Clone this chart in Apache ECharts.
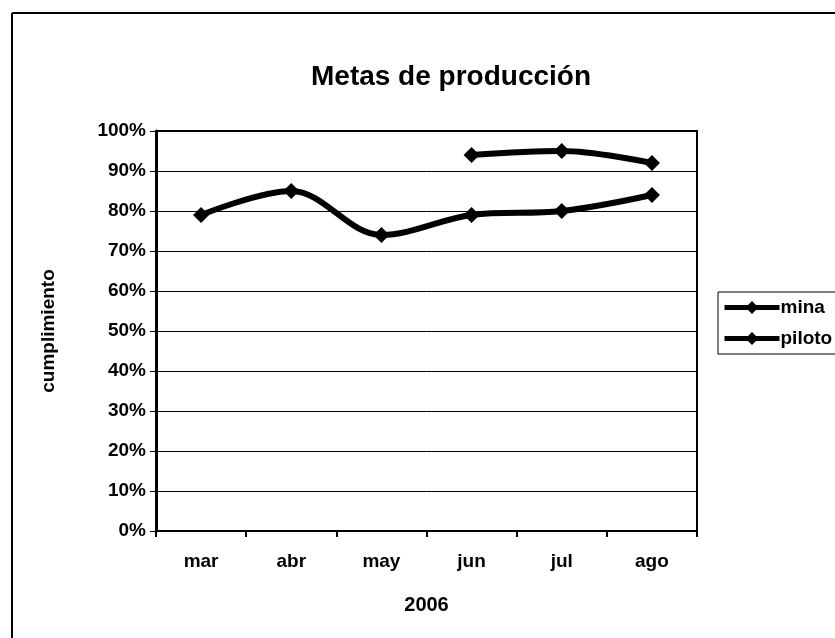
<!DOCTYPE html>
<html>
<head>
<meta charset="utf-8">
<script src="https://cdn.jsdelivr.net/npm/echarts@6/dist/echarts.min.js"></script>
<style>
  html, body { margin: 0; padding: 0; background: #fff; }
  #chart { width: 835px; height: 638px; }
</style>
</head>
<body>
<div id="chart"></div>
<script>
const months = ['mar', 'abr', 'may', 'jun', 'jul', 'ago'];
const mina = [79, 85, 74, 79, 80, 84];
const piloto = [null, null, null, 94, 95, 92];
const yTicks = [0, 100, 10]; // min, max, step

const font = 'Liberation Sans, Arial, sans-serif';

function lineSeries(name, values) {
  return {
    name: name,
    type: 'line',
    data: values,
    smooth: 0.35,
    symbol: 'diamond',
    symbolSize: 16,
    lineStyle: { color: '#000', width: 6 },
    itemStyle: { color: '#000' }
  };
}

const chart = echarts.init(document.getElementById('chart'));

chart.setOption({
  animation: false,
  backgroundColor: '#fff',
  title: {
    text: 'Metas de producción',
    left: 446,
    textAlign: 'center',
    top: 58,
    textStyle: { fontFamily: font, fontSize: 28, fontWeight: 'bold', color: '#000' }
  },
  graphic: [
    { type: 'line', shape: { x1: 12, y1: 13, x2: 835, y2: 13 }, style: { stroke: '#000', lineWidth: 2 } },
    { type: 'line', shape: { x1: 12, y1: 13, x2: 12, y2: 638 }, style: { stroke: '#000', lineWidth: 2 } }
  ],
  legend: {
    orient: 'vertical',
    left: 718,
    top: 292,
    data: ['mina', 'piloto'],
    itemWidth: 55,
    itemHeight: 16,
    itemGap: 12,
    padding: [6, 20, 6, 4],
    borderColor: '#000',
    borderWidth: 1,
    lineStyle: { width: 5, color: '#000' },
    textStyle: { fontFamily: font, fontSize: 19, fontWeight: 'bold', color: '#000', padding: [0, 0, 0, -4] }
  },
  grid: {
    left: 156,
    right: 138,
    top: 131,
    bottom: 107,
    show: true,
    borderColor: '#000',
    borderWidth: 2,
    backgroundColor: 'transparent'
  },
  xAxis: {
    type: 'category',
    data: months,
    boundaryGap: true,
    name: '2006',
    nameLocation: 'middle',
    nameGap: 64,
    nameTextStyle: { fontFamily: font, fontSize: 20, fontWeight: 'bold', color: '#000' },
    axisLine: { lineStyle: { color: '#000', width: 2 } },
    axisTick: { show: true, length: 6, lineStyle: { color: '#000', width: 2 } },
    axisLabel: { fontFamily: font, fontSize: 19, fontWeight: 'bold', color: '#000', margin: 21 }
  },
  yAxis: {
    type: 'value',
    min: yTicks[0],
    max: yTicks[1],
    interval: yTicks[2],
    name: 'cumplimiento',
    nameLocation: 'middle',
    nameGap: 98,
    nameTextStyle: { fontFamily: font, fontSize: 19, fontWeight: 'bold', color: '#000' },
    axisLine: { show: true, lineStyle: { color: '#000', width: 3 } },
    axisTick: { show: true, length: 6, lineStyle: { color: '#000', width: 1 } },
    axisLabel: { formatter: '{value}%', fontFamily: font, fontSize: 19, fontWeight: 'bold', color: '#000', margin: 10 },
    splitLine: { show: true, lineStyle: { color: '#000', width: 1 } }
  },
  series: [lineSeries('mina', mina), lineSeries('piloto', piloto)]
});
</script>
</body>
</html>
